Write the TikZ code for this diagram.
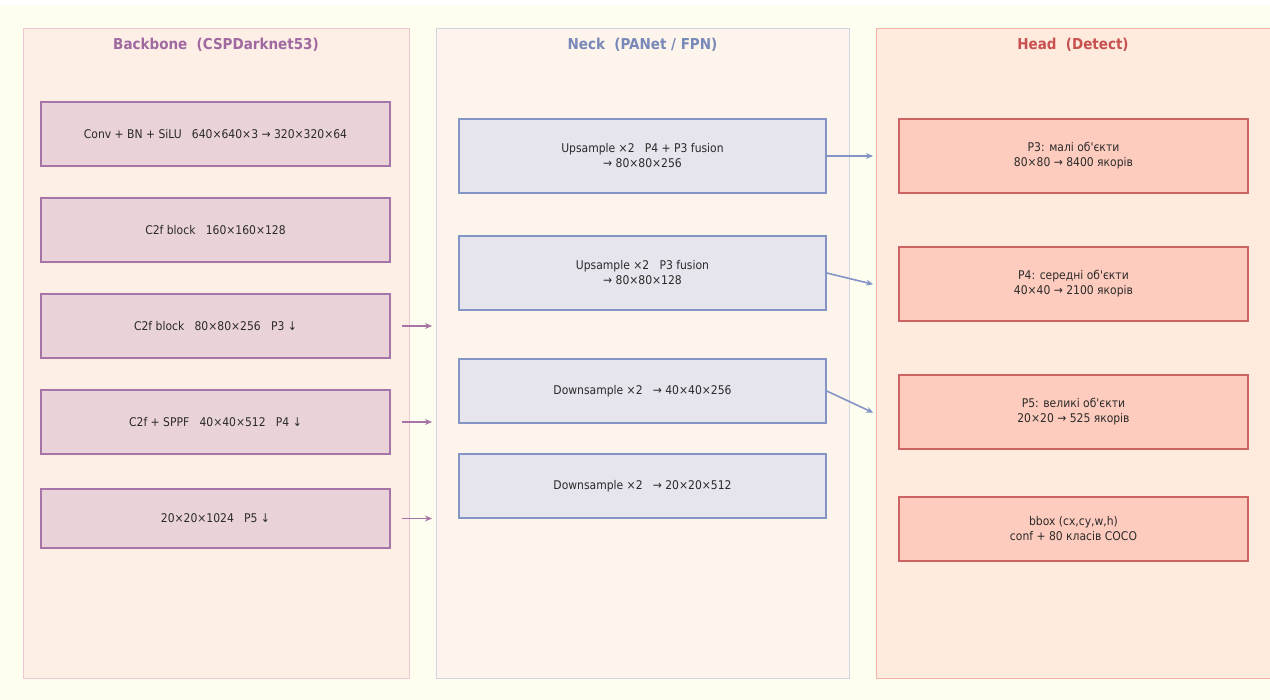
\documentclass[tikz,border=0pt]{standalone}
\usepackage{fontspec}
\setmainfont{DejaVu Sans Condensed}
\usetikzlibrary{arrows.meta}

\definecolor{pagebg}{HTML}{FEFEF0}
\definecolor{bbfill}{HTML}{FDEEE6}
\definecolor{bbline}{HTML}{EBC8D2}
\definecolor{nkfill}{HTML}{FDF5EC}
\definecolor{nkline}{HTML}{D2D2E2}
\definecolor{hdfill}{HTML}{FEEBDD}
\definecolor{hdline}{HTML}{F2B4A8}
\definecolor{bbbox}{HTML}{EAD3D8}
\definecolor{bbedge}{HTML}{A674A6}
\definecolor{nkbox}{HTML}{E6E4EC}
\definecolor{nkedge}{HTML}{8494C4}
\definecolor{hdbox}{HTML}{FECCBE}
\definecolor{hdedge}{HTML}{CC6464}
\definecolor{bbtitle}{HTML}{A06AA0}
\definecolor{nktitle}{HTML}{7888B8}
\definecolor{hdtitle}{HTML}{C85050}
\definecolor{ink}{HTML}{2A2A2A}

\newcommand{\apos}{\textquotesingle}

\tikzset{
  panel/.style={draw, line width=1.2pt, rectangle, inner sep=0pt, anchor=north west},
  ptitle/.style={font=\bfseries\fontsize{15}{17}\selectfont},
  block/.style={rectangle, line width=1.5pt, inner sep=2pt, align=center,
    text=ink, font=\fontsize{12}{15}\selectfont},
  bbblock/.style={block, draw=bbedge, fill=bbbox, minimum width=349pt, minimum height=64pt},
  nkblock/.style={block, draw=nkedge, fill=nkbox, minimum width=367pt},
  hdblock/.style={block, draw=hdedge, fill=hdbox, minimum width=349pt},
  bbarrow/.style={draw=bbedge, line width=1.6pt, -{Stealth[length=7pt,width=6pt]}},
  nkarrow/.style={draw=nkedge, line width=1.6pt, -{Stealth[length=7pt,width=6pt]}},
}

\begin{document}
\begin{tikzpicture}[x=1pt, y=-1pt]
\useasboundingbox (0,0) rectangle (1270,700);
\fill[pagebg] (0,0) rectangle (1270,700);
\fill[white] (0,0) rectangle (1270,5);

% three stage panels
\node[panel, draw=bbline, fill=bbfill, minimum width=386pt, minimum height=650pt] (bbp) at (23,28) {};
\node[panel, draw=nkline, fill=nkfill, minimum width=413pt, minimum height=650pt] (nkp) at (436,28) {};
\node[panel, draw=hdline, fill=hdfill, minimum width=410pt, minimum height=650pt] (hdp) at (876,28) {};

\node[ptitle, text=bbtitle] (bbt) at (216,45) {Backbone\ \ (CSPDarknet53)};
\node[ptitle, text=nktitle] (nkt) at (642.5,45) {Neck\ \ (PANet / FPN)};
\node[ptitle, text=hdtitle] (hdt) at (1073,45) {Head\ \ (Detect)};

% backbone
\node[bbblock] (b1) at (215.5,134) {Conv + BN + SiLU\ \ \ 640×640×3 → 320×320×64};
\node[bbblock] (b2) at (215.5,230) {C2f block\ \ \ 160×160×128};
\node[bbblock] (b3) at (215.5,326) {C2f block\ \ \ 80×80×256\ \ \ P3 ↓};
\node[bbblock] (b4) at (215.5,422) {C2f + SPPF\ \ \ 40×40×512\ \ \ P4 ↓};
\node[bbblock, minimum height=59pt] (b5) at (215.5,518.5) {20×20×1024\ \ \ P5 ↓};

% neck
\node[nkblock, minimum height=74pt] (n1) at (642.5,156) {Upsample ×2\ \ \ P4 + P3 fusion\\→ 80×80×256};
\node[nkblock, minimum height=74pt] (n2) at (642.5,273) {Upsample ×2\ \ \ P3 fusion\\→ 80×80×128};
\node[nkblock, minimum height=64pt] (n3) at (642.5,391) {Downsample ×2\ \ \ → 40×40×256};
\node[nkblock, minimum height=64pt] (n4) at (642.5,486) {Downsample ×2\ \ \ → 20×20×512};

% head
\node[hdblock, minimum height=74pt] (h1) at (1073.5,156) {P3: малі об\apos єкти\\80×80 → 8400 якорів};
\node[hdblock, minimum height=74pt] (h2) at (1073.5,284) {P4: середні об\apos єкти\\40×40 → 2100 якорів};
\node[hdblock, minimum height=74pt] (h3) at (1073.5,412) {P5: великі об\apos єкти\\20×20 → 525 якорів};
\node[hdblock, minimum height=64pt] (h4) at (1073.5,529) {bbox (cx,cy,w,h)\\conf + 80 класів COCO};

% backbone taps into the neck
\foreach \b in {b3,b4,b5}
  \draw[bbarrow, shorten <=11pt, shorten >=4pt] (\b.east) -- (\b.east -| nkp.west);

% neck outputs into the head
\draw[nkarrow, shorten >=3pt] (n1.east) -- (hdp.west |- h1);
\draw[nkarrow, shorten >=3pt] (n2.east) -- ([yshift=-1pt]hdp.west |- h2);
\draw[nkarrow, shorten >=3pt] (n3.east) -- ([yshift=-2pt]hdp.west |- h3);
\end{tikzpicture}
\end{document}
